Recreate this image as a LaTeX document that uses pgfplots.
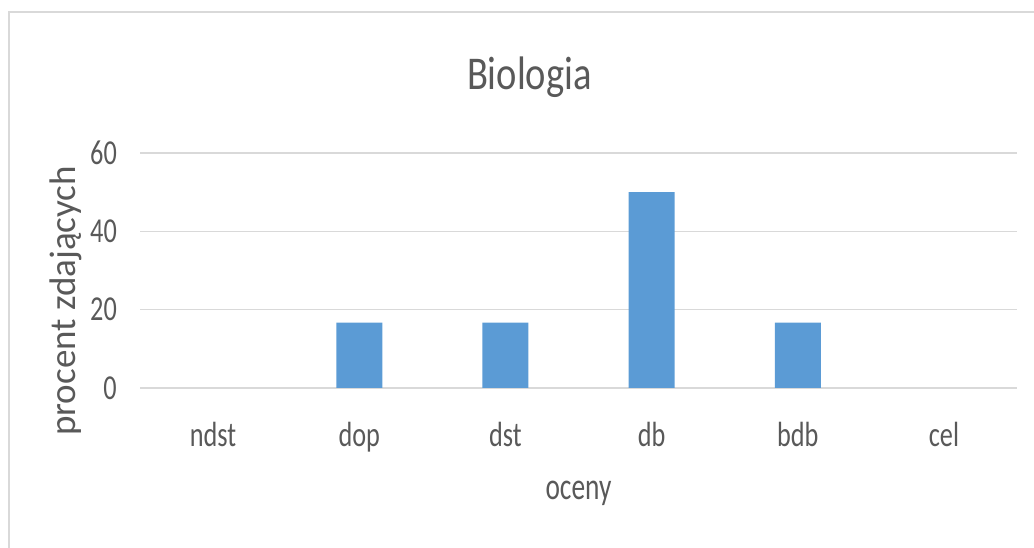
\documentclass[border=0pt]{standalone}
\usepackage{fontspec}
\setmainfont{Carlito}[FakeStretch=0.75]
\newfontfamily\ylabfont{Carlito}
\newfontfamily\xlabfont{Carlito}[FakeStretch=0.72]
\newfontfamily\titlefont{Carlito}[FakeStretch=0.82]
\usepackage{pgfplots}
\pgfplotsset{compat=1.18}
\definecolor{barblue}{HTML}{5B9BD5}
\definecolor{txtgray}{HTML}{595959}
\definecolor{gridgray}{HTML}{D9D9D9}
\definecolor{framegray}{HTML}{D9D9D9}
\begin{document}
\begin{tikzpicture}[x=1bp,y=1bp]
\useasboundingbox (0,0) rectangle (1034,548);
\draw[framegray, line width=2.5bp] (9,-5) -- (9,536) -- (1040,536);
\begin{axis}[
  at={(140bp,160bp)}, anchor=south west,
  scale only axis, width=877bp, height=235bp,
  xmin=-0.5, xmax=5.5, ymin=0, ymax=60,
  ybar, bar width=46bp,
  axis line style={draw=none},
  tick style={draw=none},
  ymajorgrids, grid style={gridgray, line width=1.5bp},
  ytick={0,20,40,60},
  xtick={0,1,2,3,4,5},
  xticklabels={ndst,dop,dst,db,bdb,cel},
  /pgf/number format/assume math mode=true,
  yticklabel style={anchor=east, inner sep=0pt, xshift=-23bp, text=txtgray, font=\fontsize{35bp}{38bp}\selectfont},
  xticklabel style={anchor=base, inner sep=0pt, yshift=-54bp, text=txtgray, font=\fontsize{35bp}{38bp}\selectfont},
  xlabel={oceny},
  xlabel style={at={(axis description cs:0.5,0)}, anchor=base, inner sep=0pt, yshift=-112bp, text=txtgray, font=\xlabfont\fontsize{38bp}{42bp}\selectfont},
  ylabel={procent zdających},
  ylabel style={at={(axis description cs:-0.073,0.37)}, anchor=base, inner sep=0pt, text=txtgray, font=\ylabfont\fontsize{37bp}{40bp}\selectfont},
  title={Biologia},
  title style={at={(axis description cs:0.444,1.243)}, anchor=base, inner sep=0pt, text=txtgray, font=\titlefont\fontsize{47bp}{50bp}\selectfont},
]
\addplot[fill=barblue, draw=none] coordinates {(1,16.67) (2,16.67) (3,50) (4,16.67)};
\end{axis}
\end{tikzpicture}
\end{document}
